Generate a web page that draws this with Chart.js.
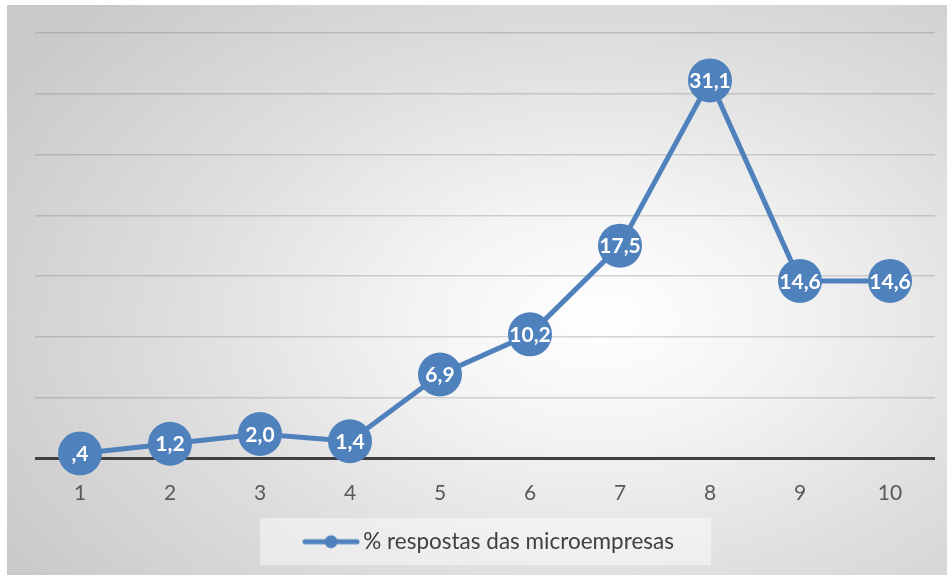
<!DOCTYPE html>
<html>
<head>
<meta charset="utf-8">
<script src="https://cdn.jsdelivr.net/npm/chart.js@4/dist/chart.umd.min.js"></script>
<style>
  body { margin: 0; background: #ffffff; }
  #wrap { position: relative; width: 951px; height: 575px; }
  #bg {
    position: absolute; left: 7px; top: 5px; width: 940px; height: 570px;
    background: radial-gradient(ellipse 75% 80% at 63% 55%, #ffffff 0%, #f4f4f4 25%, #dedede 60%, #c9c9c9 100%);
  }
  #grafico { position: absolute; left: 0; top: 0; }
</style>
</head>
<body>
<div id="wrap">
  <div id="bg"></div>
  <canvas id="grafico" width="951" height="575"></canvas>
</div>
<script>
var categorias = ['1', '2', '3', '4', '5', '6', '7', '8', '9', '10'];
var respostas = [0.4, 1.2, 2.0, 1.4, 6.9, 10.2, 17.5, 31.1, 14.6, 14.6];
var nomeSerie = '% respostas das microempresas';
var azul = '#4f81bd';

function formatarValor(v) {
  var txt = v.toFixed(1).replace('.', ',');
  if (txt.indexOf('0,') === 0) txt = txt.substring(1);
  return txt;
}

// marcador da legenda: linha com bolinha no meio
var marcador = document.createElement('canvas');
marcador.width = 58;
marcador.height = 16;
var mctx = marcador.getContext('2d');
mctx.strokeStyle = azul;
mctx.lineWidth = 5;
mctx.lineCap = 'round';
mctx.beginPath();
mctx.moveTo(3, 8);
mctx.lineTo(55, 8);
mctx.stroke();
mctx.fillStyle = azul;
mctx.beginPath();
mctx.arc(29, 8, 6.5, 0, Math.PI * 2);
mctx.fill();

// fundo claro atras da legenda
var fundoLegenda = {
  id: 'fundoLegenda',
  afterLayout: function (chart) {
    // empurra a legenda um pouco pra direita
    if (chart.legend) {
      chart.legend.left += 7;
      chart.legend.right += 7;
    }
  },
  beforeDraw: function (chart) {
    var ctx = chart.ctx;
    ctx.save();
    ctx.fillStyle = 'rgba(255,255,255,0.45)';
    ctx.fillRect(260, 518, 451, 47);
    ctx.restore();
  }
};

// rotulos de dados dentro dos circulos
var rotulos = {
  id: 'rotulos',
  afterDatasetsDraw: function (chart) {
    var ctx = chart.ctx;
    var meta = chart.getDatasetMeta(0);
    ctx.save();
    ctx.font = 'bold 21px Lato';
    ctx.fillStyle = '#ffffff';
    ctx.textAlign = 'center';
    ctx.textBaseline = 'middle';
    meta.data.forEach(function (pt, i) {
      ctx.fillText(formatarValor(respostas[i]), pt.x, pt.y + 1);
    });
    ctx.restore();
  }
};

new Chart(document.getElementById('grafico'), {
  type: 'line',
  data: {
    labels: categorias,
    datasets: [{
      label: nomeSerie,
      data: respostas,
      borderColor: azul,
      backgroundColor: azul,
      borderWidth: 5,
      pointRadius: 22,
      pointHoverRadius: 22,
      pointBackgroundColor: azul,
      pointBorderWidth: 0,
      tension: 0,
      clip: false
    }]
  },
  options: {
    responsive: false,
    animation: false,
    layout: { autoPadding: false, padding: { left: 35, right: 16, top: 33, bottom: 12 } },
    scales: {
      x: {
        offset: true,
        grid: { display: false },
        border: { display: false },
        ticks: { color: '#595959', font: { family: 'Lato', size: 21 }, padding: 14 },
        afterFit: function (scale) { scale.height -= 13; }
      },
      y: {
        min: 0,
        max: 35,
        ticks: { display: false, stepSize: 5 },
        border: { display: false },
        grid: {
          drawTicks: false,
          color: function (c) { return c.tick.value === 0 ? '#404040' : 'rgba(110,110,110,0.28)'; },
          lineWidth: function (c) { return c.tick.value === 0 ? 3 : 1.5; }
        }
      }
    },
    plugins: {
      tooltip: { enabled: false },
      legend: {
        position: 'bottom',
        labels: {
          color: '#404040',
          font: { family: 'Lato', size: 22.5 },
          padding: 24,
          usePointStyle: true,
          pointStyleWidth: 42,
          generateLabels: function (chart) {
            return [{
              text: nomeSerie,
              pointStyle: marcador,
              fillStyle: azul,
              strokeStyle: azul,
              fontColor: '#404040',
              lineWidth: 0,
              datasetIndex: 0
            }];
          }
        }
      }
    }
  },
  plugins: [fundoLegenda, rotulos]
});
</script>
</body>
</html>
